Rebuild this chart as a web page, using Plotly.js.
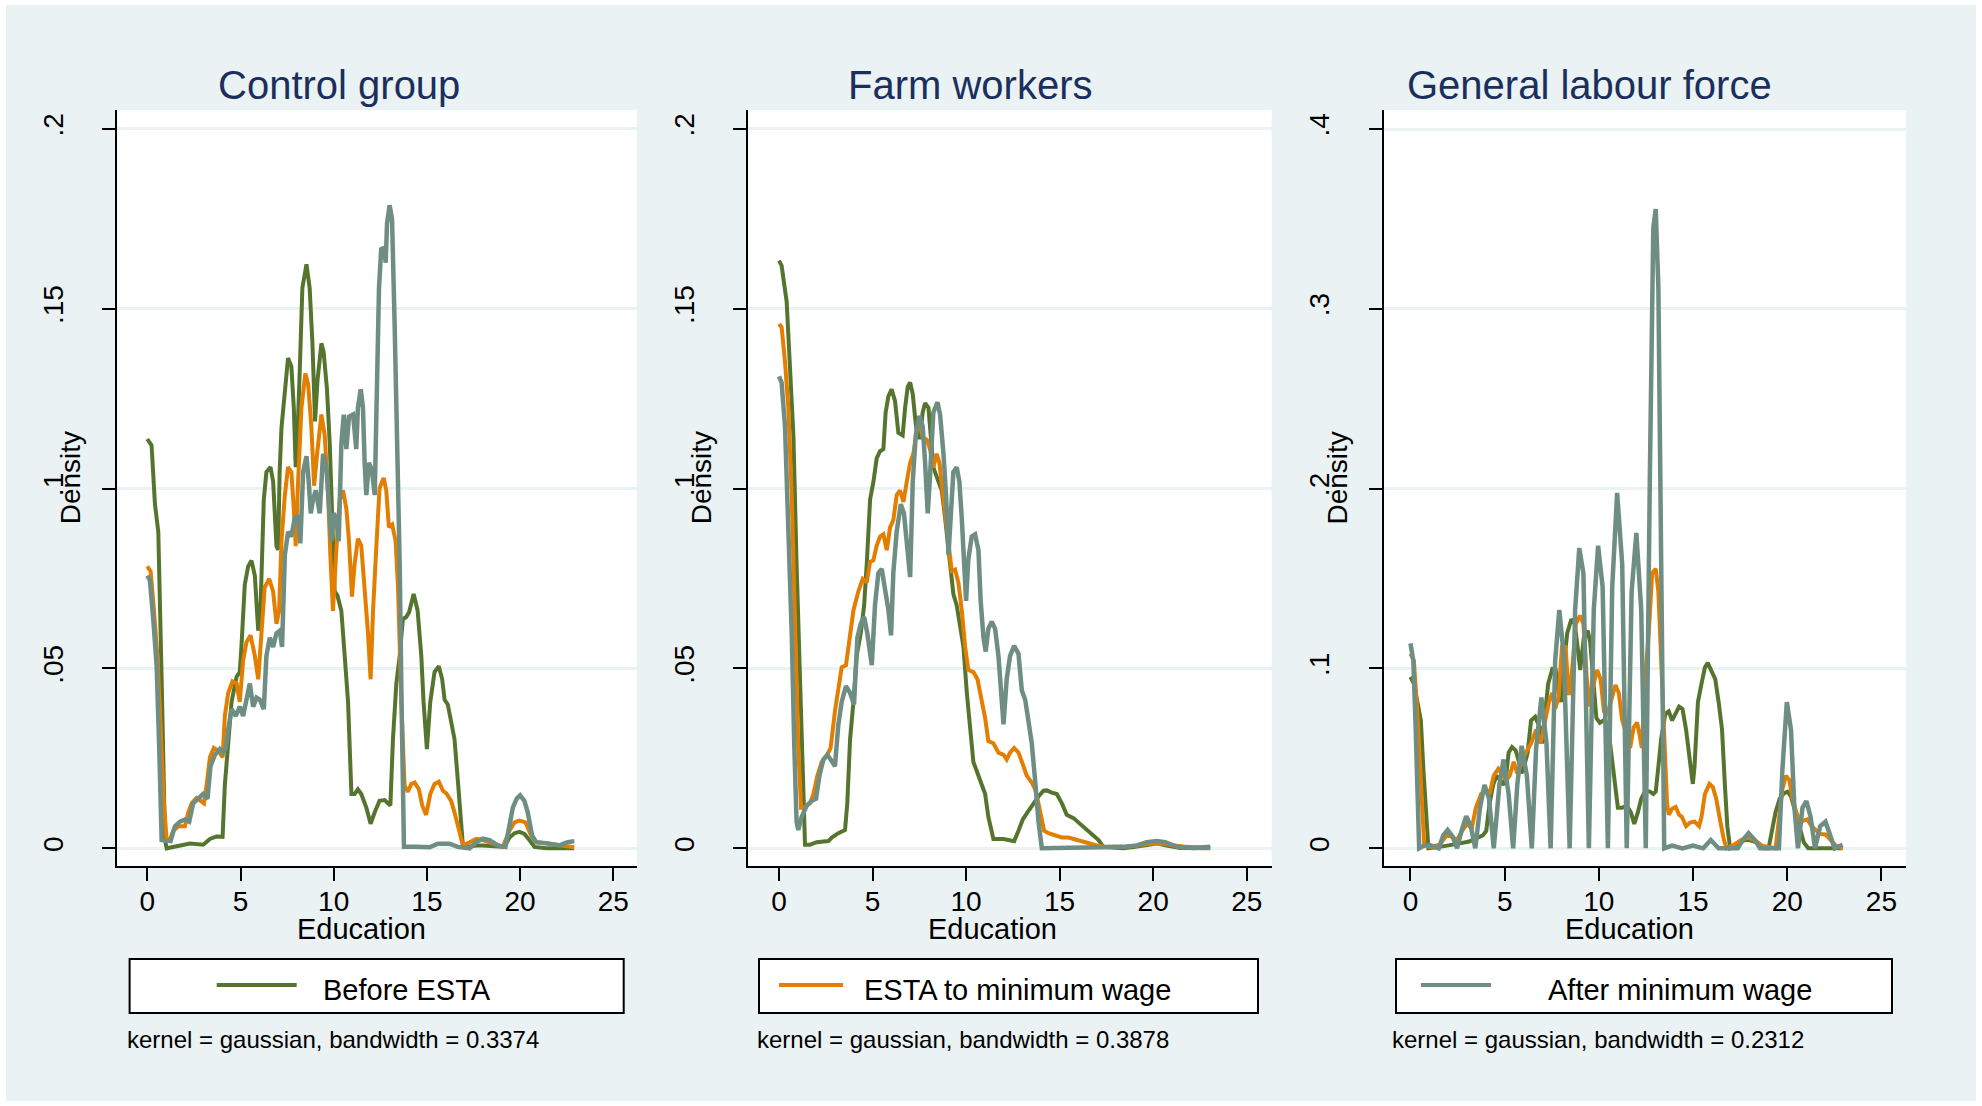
<!DOCTYPE html>
<html><head><meta charset="utf-8">
<script src="https://cdn.plot.ly/plotly-3.0.1.min.js"></script>
<style>
html,body{margin:0;padding:0;background:#ffffff;}
#chart{position:absolute;left:6px;top:5px;width:1970px;height:1096px;}
</style></head><body><div id="chart"></div>
<script>
// ---------- DATA (Education, Density) ----------
const panelTitles = ['Control group', 'Farm workers', 'General labour force'];
const seriesNames = ['Before ESTA', 'ESTA to minimum wage', 'After minimum wage'];
const bandwidthNotes = ['kernel = gaussian, bandwidth = 0.3374', 'kernel = gaussian, bandwidth = 0.3878', 'kernel = gaussian, bandwidth = 0.2312'];
const xTickVals = [0, 5, 10, 15, 20, 25];
const xTickText = ['0', '5', '10', '15', '20', '25'];
const yTickVals12 = [0, 0.05, 0.1, 0.15, 0.2];
const yTickText12 = ['0', '.05', '.1', '.15', '.2'];
const yTickVals3 = [0, 0.1, 0.2, 0.3, 0.4];
const yTickText3 = ['0', '.1', '.2', '.3', '.4'];

// Panel 1: Control group
const p1Before = [[0,0.1138],[0.23,0.112],[0.41,0.0957],[0.59,0.088],[0.77,0.047],[0.95,0.0023],[1.04,0],[1.75,0.0008],[2.1,0.001],[2.29,0.0013],[3.0,0.001],[3.36,0.0026],[3.71,0.0033],[4.04,0.0032],[4.16,0.0176],[4.34,0.030],[4.52,0.0407],[4.79,0.0477],[4.96,0.049],[5.05,0.056],[5.23,0.0733],[5.41,0.0784],[5.59,0.080],[5.77,0.0758],[5.95,0.0605],[6.07,0.066],[6.25,0.097],[6.39,0.1046],[6.61,0.106],[6.75,0.102],[6.93,0.084],[7.02,0.083],[7.1,0.1046],[7.2,0.117],[7.38,0.1276],[7.55,0.1363],[7.73,0.134],[7.86,0.1225],[7.96,0.106],[8.04,0.1123],[8.18,0.133],[8.32,0.1558],[8.54,0.1624],[8.71,0.1558],[8.86,0.1404],[9.0,0.1187],[9.13,0.130],[9.34,0.1404],[9.46,0.138],[9.64,0.1276],[9.79,0.1123],[9.93,0.0905],[10.05,0.0714],[10.2,0.0703],[10.41,0.066],[10.59,0.0535],[10.77,0.0407],[10.95,0.0151],[11.12,0.0151],[11.3,0.0164],[11.48,0.0151],[11.75,0.0113],[11.98,0.0068],[12.2,0.010],[12.46,0.0132],[12.73,0.0134],[13.04,0.0119],[13.18,0.0304],[13.36,0.0458],[13.54,0.0535],[13.71,0.0637],[13.89,0.0643],[14.04,0.0656],[14.29,0.0707],[14.5,0.0662],[14.7,0.0535],[14.82,0.0407],[15.0,0.0276],[15.18,0.0407],[15.41,0.049],[15.64,0.0506],[15.82,0.047],[15.95,0.0413],[16.12,0.040],[16.3,0.0355],[16.48,0.0304],[16.66,0.0189],[16.79,0.010],[16.93,0.0008],[17.2,0.0004],[17.64,0.0008],[18.0,0.0008],[18.54,0.0005],[19.16,0.0004],[19.43,0.003],[19.7,0.0042],[19.96,0.0046],[20.23,0.004],[20.5,0.0023],[20.77,0.0004],[21.4,0],[22.9,0]];
const p1Esta = [[0,0.0784],[0.18,0.077],[0.36,0.066],[0.54,0.0535],[0.71,0.0343],[0.89,0.0125],[1.04,0.0023],[1.21,0.0023],[1.39,0.0049],[1.66,0.0061],[2.02,0.0061],[2.2,0.010],[2.38,0.0125],[2.64,0.014],[2.86,0.0132],[3.04,0.0125],[3.18,0.0176],[3.36,0.0253],[3.57,0.0279],[3.8,0.0272],[4.04,0.0253],[4.16,0.0368],[4.34,0.0432],[4.57,0.0464],[4.79,0.0458],[4.96,0.0407],[5.14,0.0522],[5.32,0.0573],[5.54,0.0592],[5.77,0.0535],[5.95,0.047],[6.13,0.0586],[6.3,0.0726],[6.54,0.0749],[6.75,0.0714],[6.93,0.0624],[7.07,0.066],[7.2,0.0854],[7.38,0.0982],[7.55,0.106],[7.73,0.1046],[7.86,0.0944],[7.96,0.084],[8.09,0.102],[8.27,0.1225],[8.48,0.132],[8.63,0.129],[8.8,0.1174],[8.95,0.1008],[9.11,0.1097],[9.34,0.1206],[9.52,0.1148],[9.7,0.0982],[9.82,0.0816],[9.96,0.066],[10.14,0.0829],[10.32,0.097],[10.5,0.0995],[10.68,0.0944],[10.82,0.0854],[10.98,0.070],[11.12,0.079],[11.3,0.0861],[11.48,0.0841],[11.66,0.0726],[11.84,0.0598],[11.98,0.047],[12.11,0.066],[12.29,0.0841],[12.46,0.1001],[12.68,0.103],[12.82,0.0995],[12.96,0.0893],[13.14,0.090],[13.32,0.0854],[13.45,0.0726],[13.63,0.0407],[13.8,0.0176],[13.98,0.0157],[14.16,0.0179],[14.34,0.0183],[14.57,0.0164],[14.75,0.0119],[14.96,0.0093],[15.18,0.0151],[15.41,0.0179],[15.64,0.0185],[15.86,0.016],[16.04,0.0153],[16.3,0.0132],[16.48,0.010],[16.71,0.0049],[16.93,0.0008],[17.29,0.0017],[17.64,0.0026],[18.0,0.0023],[18.54,0.0013],[19.07,0.0004],[19.43,0.0049],[19.7,0.0072],[19.96,0.0077],[20.29,0.0072],[20.59,0.0036],[20.86,0.0017],[21.4,0.0014],[21.93,0.001],[22.46,0.0004],[22.9,0.0003]];
const p1After = [[0,0.0758],[0.14,0.0746],[0.32,0.0637],[0.5,0.0509],[0.64,0.0279],[0.77,0.0023],[1.25,0.002],[1.48,0.0061],[1.75,0.0074],[2.02,0.008],[2.25,0.0074],[2.46,0.0125],[2.73,0.0138],[3.0,0.0151],[3.23,0.0138],[3.39,0.0228],[3.63,0.026],[3.89,0.0276],[4.07,0.0266],[4.21,0.0279],[4.34,0.033],[4.52,0.0387],[4.75,0.0368],[4.96,0.0394],[5.14,0.0368],[5.32,0.0407],[5.5,0.0458],[5.68,0.0394],[5.86,0.0419],[6.04,0.0413],[6.25,0.0387],[6.39,0.0535],[6.57,0.0586],[6.75,0.056],[6.93,0.0598],[7.11,0.0605],[7.23,0.056],[7.38,0.0816],[7.55,0.088],[7.73,0.0867],[7.91,0.0918],[8.09,0.0925],[8.21,0.0848],[8.36,0.1046],[8.54,0.109],[8.66,0.102],[8.77,0.0931],[8.89,0.097],[9.04,0.0995],[9.25,0.0931],[9.43,0.1097],[9.61,0.1059],[9.75,0.0944],[9.88,0.0854],[10.0,0.0931],[10.14,0.0918],[10.27,0.0854],[10.41,0.1123],[10.54,0.1206],[10.68,0.111],[10.82,0.12],[11.04,0.1206],[11.21,0.111],[11.3,0.1225],[11.45,0.1276],[11.57,0.1225],[11.66,0.1072],[11.75,0.0982],[11.89,0.1072],[12.05,0.1052],[12.2,0.0982],[12.32,0.1225],[12.43,0.1558],[12.55,0.1666],[12.7,0.167],[12.79,0.1628],[12.86,0.1737],[13.0,0.1788],[13.13,0.175],[13.27,0.1455],[13.39,0.1174],[13.54,0.079],[13.64,0.0407],[13.77,0.0004],[14.43,0.0004],[15.14,0.0003],[15.59,0.0013],[16.21,0.0013],[16.66,0.0004],[17.29,0],[17.64,0.0017],[18.0,0.0027],[18.36,0.0023],[18.8,0.0008],[19.21,0.0004],[19.43,0.0061],[19.61,0.0113],[19.82,0.0138],[20.0,0.0147],[20.23,0.0132],[20.41,0.010],[20.64,0.0036],[20.86,0.0017],[21.57,0.0013],[22.11,0.0008],[22.55,0.0017],[22.91,0.002]];

// Panel 2: Farm workers
const p2Before = [[0,0.1634],[0.14,0.162],[0.41,0.152],[0.59,0.1327],[0.77,0.1148],[0.94,0.079],[1.12,0.047],[1.27,0.0151],[1.39,0.001],[1.66,0.001],[2.01,0.0017],[2.64,0.002],[2.82,0.003],[3.17,0.0042],[3.53,0.0051],[3.65,0.0125],[3.8,0.0304],[3.98,0.0407],[4.15,0.0535],[4.37,0.0598],[4.55,0.0675],[4.69,0.079],[4.87,0.097],[5.05,0.102],[5.22,0.1084],[5.4,0.1104],[5.58,0.111],[5.7,0.1212],[5.85,0.1257],[6.02,0.1276],[6.2,0.1244],[6.38,0.1155],[6.61,0.1148],[6.74,0.1225],[6.88,0.1283],[7.01,0.1295],[7.15,0.1263],[7.27,0.12],[7.4,0.1142],[7.54,0.1142],[7.68,0.1212],[7.81,0.1238],[7.99,0.1225],[8.11,0.1148],[8.25,0.1059],[8.47,0.1027],[8.7,0.0995],[8.88,0.0918],[9.06,0.0829],[9.23,0.0739],[9.32,0.0707],[9.5,0.0675],[9.68,0.0611],[9.86,0.056],[10.04,0.0432],[10.21,0.0343],[10.39,0.024],[10.57,0.0215],[10.75,0.0189],[11.02,0.0151],[11.19,0.0087],[11.46,0.0026],[12.0,0.0026],[12.35,0.0023],[12.57,0.002],[12.8,0.0049],[13.03,0.008],[13.28,0.010],[13.6,0.0125],[13.87,0.0144],[14.14,0.016],[14.31,0.0161],[14.58,0.0155],[14.85,0.0151],[15.12,0.0125],[15.38,0.0093],[15.74,0.0084],[16.1,0.0068],[16.45,0.0049],[16.81,0.0036],[17.08,0.0023],[17.34,0.0004],[18.41,0],[19.04,0.0004],[19.66,0.001],[20.2,0.0013],[20.73,0.0008],[21.44,0.0001],[23.05,0]];
const p2Esta = [[0,0.1458],[0.14,0.1449],[0.32,0.1353],[0.5,0.1225],[0.68,0.0982],[0.86,0.066],[1.03,0.0279],[1.18,0.0113],[1.39,0.0115],[1.66,0.0125],[1.84,0.0151],[2.05,0.0202],[2.28,0.024],[2.55,0.0256],[2.76,0.0279],[2.99,0.0381],[3.17,0.0445],[3.35,0.0503],[3.58,0.0509],[3.76,0.0586],[3.98,0.0662],[4.24,0.0714],[4.47,0.0749],[4.69,0.0739],[4.87,0.0797],[5.04,0.080],[5.22,0.0841],[5.4,0.0867],[5.58,0.0873],[5.76,0.0829],[5.94,0.0893],[6.11,0.0912],[6.29,0.0982],[6.47,0.0995],[6.65,0.0963],[6.83,0.102],[7.01,0.1072],[7.18,0.1097],[7.36,0.1161],[7.54,0.118],[7.68,0.1142],[7.9,0.1136],[8.07,0.111],[8.25,0.1059],[8.43,0.1097],[8.57,0.1072],[8.7,0.1008],[8.88,0.0931],[9.06,0.0854],[9.23,0.0771],[9.41,0.0775],[9.59,0.0739],[9.77,0.0662],[9.95,0.056],[10.12,0.0496],[10.39,0.049],[10.61,0.047],[10.84,0.0407],[11.02,0.0362],[11.19,0.0298],[11.46,0.0292],[11.73,0.0266],[12.0,0.026],[12.17,0.0247],[12.35,0.0266],[12.57,0.0279],[12.8,0.0266],[13.03,0.0234],[13.24,0.0202],[13.51,0.0183],[13.69,0.0164],[13.87,0.0125],[14.05,0.0074],[14.17,0.0049],[14.4,0.0042],[14.76,0.0036],[15.12,0.003],[15.47,0.003],[15.92,0.0023],[16.45,0.0017],[16.99,0.0008],[17.52,0.0004],[18.41,0.0004],[19.13,0.0008],[19.84,0.0013],[20.37,0.0013],[21.09,0.0008],[21.8,0.0004],[23.05,0.0001]];
const p2After = [[0,0.1312],[0.14,0.1295],[0.32,0.1174],[0.5,0.0918],[0.68,0.0598],[0.82,0.0279],[0.94,0.0074],[1.03,0.0051],[1.21,0.0087],[1.48,0.0119],[1.75,0.0132],[1.98,0.0138],[2.16,0.0202],[2.37,0.0247],[2.58,0.026],[2.76,0.0247],[2.99,0.0228],[3.17,0.0343],[3.35,0.0407],[3.58,0.0451],[3.8,0.0432],[4.01,0.04],[4.19,0.0586],[4.37,0.0624],[4.55,0.0643],[4.72,0.0598],[4.96,0.0509],[5.13,0.0675],[5.31,0.0765],[5.49,0.0777],[5.67,0.0726],[5.85,0.0662],[5.99,0.0592],[6.11,0.0765],[6.29,0.088],[6.51,0.0957],[6.68,0.0931],[6.83,0.0854],[7.01,0.0754],[7.15,0.102],[7.31,0.1148],[7.5,0.1202],[7.68,0.1174],[7.81,0.1072],[7.95,0.0931],[8.07,0.1033],[8.25,0.1212],[8.47,0.124],[8.61,0.1206],[8.79,0.1097],[8.93,0.0982],[9.06,0.0816],[9.18,0.0918],[9.32,0.1046],[9.5,0.1059],[9.64,0.102],[9.77,0.0918],[9.89,0.0816],[10.0,0.0688],[10.12,0.0803],[10.3,0.0867],[10.48,0.0873],[10.66,0.0829],[10.78,0.0688],[10.93,0.0586],[11.05,0.0547],[11.19,0.0611],[11.37,0.063],[11.55,0.0611],[11.73,0.0535],[11.85,0.0432],[12.0,0.0345],[12.17,0.047],[12.35,0.0535],[12.57,0.0563],[12.8,0.0541],[12.98,0.0439],[13.16,0.0413],[13.33,0.0355],[13.51,0.0292],[13.69,0.0189],[13.87,0.0074],[14.05,0],[14.85,0],[15.74,0.0003],[17.17,0.0003],[18.41,0.0004],[19.13,0.0008],[19.66,0.0017],[20.2,0.002],[20.64,0.0017],[21.27,0.0004],[22.16,0.0001],[23.05,0.0004]];

// Panel 3: General labour force
const p3Before = [[0,0.0954],[0.18,0.0916],[0.37,0.0813],[0.55,0.0711],[0.69,0.043],[0.82,0.02],[0.95,0],[1.55,0.0008],[2.01,0.0015],[2.56,0.0026],[3.11,0.0038],[3.47,0.0054],[3.84,0.0072],[4.02,0.0097],[4.2,0.025],[4.39,0.0353],[4.57,0.0404],[4.75,0.0379],[4.94,0.0353],[5.08,0.0404],[5.21,0.0532],[5.39,0.0563],[5.58,0.0545],[5.76,0.0481],[5.89,0.0417],[6.03,0.0455],[6.22,0.0532],[6.4,0.0711],[6.62,0.0731],[6.86,0.0673],[6.98,0.0583],[7.13,0.0737],[7.31,0.0916],[7.53,0.0997],[7.71,0.0992],[7.86,0.0864],[7.99,0.0813],[8.14,0.1018],[8.32,0.1197],[8.54,0.1274],[8.72,0.1248],[8.87,0.112],[9.01,0.0992],[9.2,0.1171],[9.41,0.121],[9.54,0.1146],[9.69,0.0941],[9.87,0.0724],[10.05,0.0698],[10.33,0.0716],[10.51,0.066],[10.69,0.0506],[10.88,0.0353],[11.01,0.0225],[11.24,0.0225],[11.48,0.0238],[11.7,0.02],[11.88,0.0136],[12.07,0.02],[12.25,0.0276],[12.47,0.032],[12.71,0.0315],[12.89,0.0302],[13.02,0.0315],[13.16,0.0455],[13.31,0.0609],[13.53,0.0749],[13.71,0.0762],[13.89,0.0711],[14.08,0.0749],[14.26,0.0788],[14.44,0.0775],[14.63,0.066],[14.81,0.0506],[14.99,0.0358],[15.08,0.0455],[15.26,0.0813],[15.45,0.0916],[15.63,0.1005],[15.78,0.1031],[15.94,0.0992],[16.18,0.0941],[16.36,0.0813],[16.54,0.066],[16.69,0.0353],[16.82,0.0123],[16.97,0],[17.37,0.002],[17.73,0.0046],[18.0,0.0046],[18.37,0.0033],[18.74,0],[19.01,0],[19.2,0.0097],[19.38,0.02],[19.6,0.0276],[19.84,0.0307],[20.02,0.0315],[20.2,0.0289],[20.44,0.02],[20.66,0.0123],[20.88,0.0033],[21.12,0],[22.94,0]];
const p3Esta = [[0,0.1082],[0.18,0.1043],[0.33,0.0813],[0.46,0.0558],[0.59,0.0225],[0.73,0.0015],[1.1,0.0008],[1.55,0.002],[1.92,0.0072],[2.19,0.0066],[2.47,0.0046],[2.74,0.0097],[3.02,0.0136],[3.25,0.011],[3.47,0.0225],[3.75,0.0302],[4.02,0.0327],[4.2,0.0302],[4.42,0.0404],[4.66,0.0442],[4.9,0.0404],[5.08,0.0379],[5.27,0.0404],[5.48,0.0481],[5.67,0.0417],[5.89,0.0481],[6.12,0.0532],[6.4,0.0583],[6.67,0.066],[6.91,0.0583],[7.13,0.0711],[7.35,0.0813],[7.53,0.0864],[7.68,0.0775],[7.86,0.0839],[8.04,0.112],[8.23,0.112],[8.41,0.0852],[8.56,0.0967],[8.78,0.1248],[9.0,0.1294],[9.18,0.1248],[9.36,0.0941],[9.54,0.0788],[9.73,0.0916],[9.91,0.0992],[10.09,0.0941],[10.27,0.0762],[10.46,0.0749],[10.64,0.0813],[10.88,0.0908],[11.06,0.0864],[11.24,0.0711],[11.43,0.0647],[11.66,0.0558],[11.85,0.0673],[12.03,0.0698],[12.16,0.0634],[12.28,0.0558],[12.47,0.0967],[12.65,0.1197],[12.83,0.1529],[13.02,0.1555],[13.16,0.1427],[13.31,0.1069],[13.46,0.0609],[13.62,0.025],[13.71,0.0187],[13.89,0.022],[14.08,0.023],[14.26,0.0187],[14.41,0.0174],[14.63,0.0123],[14.84,0.0143],[15.08,0.0148],[15.32,0.0123],[15.45,0.0174],[15.63,0.0302],[15.87,0.0358],[16.05,0.034],[16.23,0.0276],[16.45,0.0148],[16.64,0.0046],[16.78,0],[17.18,0.002],[17.55,0.0046],[17.92,0.0059],[18.28,0.0046],[18.65,0.0015],[19.38,0],[19.56,0.0174],[19.74,0.0327],[19.93,0.0404],[20.11,0.0379],[20.29,0.0276],[20.48,0.02],[20.69,0.0148],[20.88,0.0153],[21.06,0.0161],[21.3,0.0123],[21.54,0.0102],[21.75,0.0079],[22.03,0.0077],[22.3,0.0046],[22.58,0.0015],[22.94,0]];
const p3After = [[0,0.114],[0.15,0.1043],[0.27,0.0685],[0.37,0.025],[0.46,0],[0.73,0.0015],[1.0,0.002],[1.28,0.0008],[1.5,0],[1.74,0.0072],[1.97,0.0102],[2.23,0.0066],[2.47,0],[2.71,0.0097],[2.96,0.0179],[3.2,0.0123],[3.44,0],[3.69,0.0225],[3.93,0.0353],[4.17,0.0276],[4.42,0],[4.72,0.0353],[4.94,0.0494],[5.21,0.0302],[5.45,0],[5.67,0.0353],[5.9,0.057],[6.18,0.0404],[6.44,0],[6.67,0.0558],[6.95,0.0839],[7.22,0.0583],[7.44,0],[7.68,0.1043],[7.9,0.1325],[8.14,0.1069],[8.45,0],[8.74,0.1325],[8.96,0.167],[9.18,0.1529],[9.47,0],[9.73,0.1325],[9.96,0.1683],[10.2,0.1453],[10.48,0],[10.71,0.1453],[10.97,0.1977],[11.24,0.158],[11.48,0],[11.74,0.1427],[11.99,0.1754],[12.25,0.1325],[12.49,0],[12.71,0.2092],[12.89,0.3448],[13.02,0.3555],[13.16,0.3115],[13.31,0.158],[13.47,0],[13.89,0.0015],[14.44,0],[14.99,0.0015],[15.54,0],[15.94,0.0046],[16.36,0],[17.37,0],[17.64,0.0046],[17.95,0.0084],[18.28,0.0046],[18.56,0],[19.56,0],[19.74,0.043],[19.98,0.0813],[20.2,0.066],[20.38,0.0225],[20.57,0],[20.81,0.0225],[21.02,0.0263],[21.24,0.0174],[21.48,0],[21.75,0.0123],[22.03,0.0148],[22.27,0.0072],[22.52,0],[22.94,0.002]];

// ---------- STYLE ----------
const colors = ['#55752F', '#E37E00', '#6E8E84'];
const widths = [4, 4, 4.5];
const FONT = 'Liberation Sans, Arial, Helvetica, sans-serif';
const W = 1970, H = 1096, OX = 6, OY = 5;
const px = X => (X - OX) / W;
const py = Y => (OY + H - Y) / H;

const panels = [
  {series:[p1Before, p1Esta, p1After], left:117.3, right:636.7, xr:[-1.609, 26.255], yr:[-0.00492, 0.20528], yv:yTickVals12, yt:yTickText12, titleX:339.4, eduX:361, legBox:[129.6,623.7], legLine:[216.7,296.7], legTextX:407, noteX:125},
  {series:[p2Before, p2Esta, p2After], left:748.3, right:1271.7, xr:[-1.641, 26.336], yr:[-0.00492, 0.20528], yv:yTickVals12, yt:yTickText12, titleX:970, eduX:993, legBox:[759,1258], legLine:[779,843], legTextX:1017.5, noteX:755},
  {series:[p3Before, p3Esta, p3After], left:1383.5, right:1906, xr:[-1.433, 26.306], yr:[-0.00984, 0.41057], yv:yTickVals3, yt:yTickText3, titleX:1589.5, eduX:1629, legBox:[1396,1892], legLine:[1421,1491], legTextX:1680, noteX:1390}
];

const traces = [];
const layout = {
  width: W, height: H,
  margin: {l:0, r:0, t:0, b:0, pad:0},
  paper_bgcolor: '#EAF2F3',
  plot_bgcolor: '#FFFFFF',
  showlegend: false,
  font: {family: FONT, color: '#000'},
  annotations: [],
  shapes: []
};

const axBase = {showline:true, linecolor:'#000', linewidth:2, ticks:'outside', ticklen:13, tickwidth:2, tickcolor:'#000',
  tickfont:{family:FONT, size:28, color:'#000'}, zeroline:false, fixedrange:true, automargin:false};

panels.forEach((p, i) => {
  const n = i === 0 ? '' : String(i + 1);
  p.series.forEach((s, k) => {
    traces.push({
      type:'scatter', mode:'lines', name: seriesNames[k],
      x: s.map(d => d[0]), y: s.map(d => d[1]),
      xaxis: 'x' + n, yaxis: 'y' + n,
      line: {color: colors[k], width: widths[k]},
      hoverinfo: 'x+y'
    });
  });
  layout['xaxis' + n] = Object.assign({}, axBase, {
    domain: [px(p.left), px(p.right)], range: p.xr, anchor: 'y' + n,
    showgrid:false, tickmode:'array', tickvals: xTickVals, ticktext: xTickText, ticklabelstandoff: -4
  });
  layout['yaxis' + n] = Object.assign({}, axBase, {
    domain: [py(866), py(110)], range: p.yr, anchor: 'x' + n,
    showgrid:true, gridcolor:'#EAF2F3', gridwidth:3,
    tickmode:'array', tickvals: p.yv, ticktext: p.yt, tickangle:-90, ticklabelstandoff: 28
  });
  // panel title
  layout.annotations.push({xref:'paper', yref:'paper', x:px(p.titleX), y:py(85), text: panelTitles[i], showarrow:false,
    xanchor:'center', yanchor:'middle', font:{family:FONT, size:40, color:'#1B2F5E'}});
  // axis titles
  layout.annotations.push({xref:'paper', yref:'paper', x:px(p.eduX), y:py(929), text:'Education', showarrow:false,
    xanchor:'center', yanchor:'middle', font:{family:FONT, size:29, color:'#000'}});
  layout.annotations.push({xref:'paper', yref:'paper', x:px(p.left - 46), y:py(478), text:'Density', showarrow:false, textangle:-90,
    xanchor:'center', yanchor:'middle', font:{family:FONT, size:28, color:'#000'}});
  // legend box
  layout.shapes.push({type:'rect', xref:'paper', yref:'paper', x0:px(p.legBox[0]), x1:px(p.legBox[1]), y0:py(1013), y1:py(959),
    line:{color:'#000', width:2}, fillcolor:'#FFFFFF'});
  layout.shapes.push({type:'line', xref:'paper', yref:'paper', x0:px(p.legLine[0]), x1:px(p.legLine[1]), y0:py(985), y1:py(985),
    line:{color: colors[i], width:4}});
  layout.annotations.push({xref:'paper', yref:'paper', x:px(p.legTextX), y:py(990), text: seriesNames[i], showarrow:false,
    xanchor:'center', yanchor:'middle', font:{family:FONT, size:29, color:'#000'}});
  // note
  layout.annotations.push({xref:'paper', yref:'paper', x:px(p.noteX), y:py(1039), text: bandwidthNotes[i], showarrow:false,
    xanchor:'left', yanchor:'middle', font:{family:FONT, size:24, color:'#000'}});
});

Plotly.newPlot('chart', traces, layout, {displayModeBar:false, staticPlot:true});
</script></body></html>
